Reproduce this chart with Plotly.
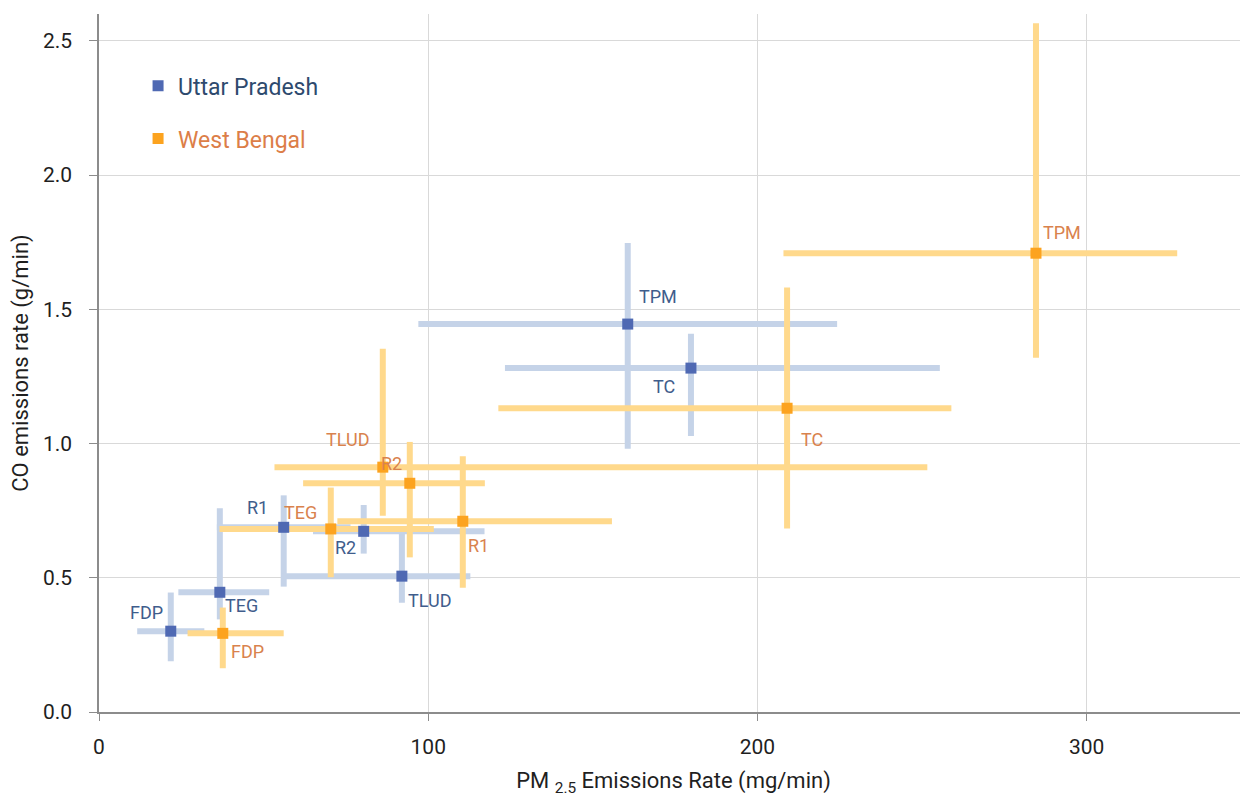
import plotly.graph_objects as go

# ---------------- data ----------------
categories = ["FDP", "TEG", "R1", "R2", "TLUD", "TC", "TPM"]

# Uttar Pradesh
up_pm = [21.8, 36.7, 56.1, 80.4, 92.0, 179.8, 160.6]
up_co = [0.301, 0.446, 0.688, 0.673, 0.506, 1.281, 1.445]
up_pm_plus = [10.2, 15.0, 20.3, 36.7, 20.8, 75.6, 63.6]
up_pm_minus = [10.2, 12.6, 20.3, 15.4, 36.4, 56.5, 63.6]
up_co_plus = [0.144, 0.313, 0.119, 0.098, 0.159, 0.128, 0.302]
up_co_minus = [0.112, 0.101, 0.221, 0.083, 0.099, 0.253, 0.464]

# West Bengal
wb_pm = [37.6, 70.4, 110.5, 94.4, 86.2, 209.0, 284.6]
wb_co = [0.293, 0.682, 0.7105, 0.852, 0.912, 1.1315, 1.709]
wb_pm_plus = [18.5, 31.3, 45.3, 22.8, 165.4, 49.9, 42.9]
wb_pm_minus = [10.7, 33.8, 38.1, 32.4, 32.9, 87.7, 76.7]
wb_co_plus = [0.096, 0.154, 0.242, 0.154, 0.441, 0.450, 0.857]
wb_co_minus = [0.130, 0.180, 0.248, 0.276, 0.181, 0.448, 0.389]

# label offsets (pixels) relative to each point
up_label_dx = [-24, 22, -26, -18, 28, -27, 30]
up_label_dy = [19, -13, 20, -16, -24, -18, 28]
wb_label_dx = [25, -30, 16, -18, -35, 25, 26]
wb_label_dy = [-18, 16, -24, 20, 28, -31, 21]

x_ticks = [0, 100, 200, 300]
y_ticks = [0.0, 0.5, 1.0, 1.5, 2.0, 2.5]

# ---------------- styles ----------------
FONT = "Roboto"
UP_MARK = "#4f69b3"
WB_MARK = "#fca31f"
UP_ERR = "#c5d3e8"
WB_ERR = "#ffd98c"
UP_TXT = "#3f5d8c"
WB_TXT = "#d9824d"
UP_LEG = "#2e4a6e"
WB_LEG = "#dc7e48"
TXT = "#1f1f1f"

fig = go.Figure()


def err_trace(x, y, xp, xm, yp, ym, color):
    return go.Scatter(
        x=x, y=y, mode="markers",
        marker=dict(size=1, color="rgba(0,0,0,0)"),
        error_x=dict(type="data", symmetric=False, array=xp, arrayminus=xm,
                     color=color, thickness=6, width=0),
        error_y=dict(type="data", symmetric=False, array=yp, arrayminus=ym,
                     color=color, thickness=6, width=0),
        showlegend=False, hoverinfo="skip",
    )


fig.add_trace(err_trace(up_pm, up_co, up_pm_plus, up_pm_minus, up_co_plus, up_co_minus, UP_ERR))
fig.add_trace(err_trace(wb_pm, wb_co, wb_pm_plus, wb_pm_minus, wb_co_plus, wb_co_minus, WB_ERR))

fig.add_trace(go.Scatter(
    x=up_pm, y=up_co, mode="markers", text=categories,
    name=f'<span style="color:{UP_LEG}">Uttar Pradesh</span>',
    marker=dict(symbol="square", size=11, color=UP_MARK),
    legendgroup="up",
))
fig.add_trace(go.Scatter(
    x=wb_pm, y=wb_co, mode="markers", text=categories,
    name=f'<span style="color:{WB_LEG}">West Bengal</span>',
    marker=dict(symbol="square", size=11, color=WB_MARK),
    legendgroup="wb",
))

annotations = []
for cat, x, y, dx, dy in zip(categories, up_pm, up_co, up_label_dx, up_label_dy):
    annotations.append(dict(x=x, y=y, xref="x", yref="y", text=cat, showarrow=False,
                            xshift=dx, yshift=dy,
                            font=dict(family=FONT, size=18, color=UP_TXT)))
for cat, x, y, dx, dy in zip(categories, wb_pm, wb_co, wb_label_dx, wb_label_dy):
    annotations.append(dict(x=x, y=y, xref="x", yref="y", text=cat, showarrow=False,
                            xshift=dx, yshift=dy,
                            font=dict(family=FONT, size=18, color=WB_TXT)))

# the page body adds an 8px offset, so the figure is 8px smaller than the window
fig.update_layout(
    width=1240, height=791,
    margin=dict(l=91, r=0, t=6, b=87),
    paper_bgcolor="white", plot_bgcolor="white",
    font=dict(family=FONT, size=21, color=TXT),
    showlegend=True,
    legend=dict(x=0.034, y=0.928, xanchor="left", yanchor="top",
                bgcolor="rgba(0,0,0,0)", font=dict(family=FONT, size=23),
                tracegroupgap=20, itemwidth=30),
    annotations=annotations,
    xaxis=dict(
        range=[0, 349], tickvals=x_ticks, ticktext=[str(v) for v in x_ticks],
        showgrid=True, gridcolor="#d9d9d9", gridwidth=1,
        showline=True, linecolor="#8c8c8c", linewidth=1.5,
        zeroline=False, ticks="outside", ticklen=7, tickcolor="#8c8c8c",
        tickfont=dict(family=FONT, size=21, color=TXT),
        ticklabelstandoff=8,
        title=dict(text="PM <sub>2.5</sub> Emissions Rate (mg/min)",
                   font=dict(family=FONT, size=22, color=TXT), standoff=15),
        automargin=False,
    ),
    yaxis=dict(
        range=[0, 2.6], tickvals=y_ticks, ticktext=[f"{v:.1f}" for v in y_ticks],
        showgrid=True, gridcolor="#d9d9d9", gridwidth=1,
        showline=True, linecolor="#8c8c8c", linewidth=1.5,
        zeroline=False, ticks="outside", ticklen=8, tickcolor="#8c8c8c",
        tickfont=dict(family=FONT, size=21, color=TXT),
        ticklabelstandoff=13,
        title=dict(text="CO emissions rate (g/min)",
                   font=dict(family=FONT, size=22, color=TXT), standoff=8),
        automargin=False,
    ),
)

fig.write_html("out.html")
